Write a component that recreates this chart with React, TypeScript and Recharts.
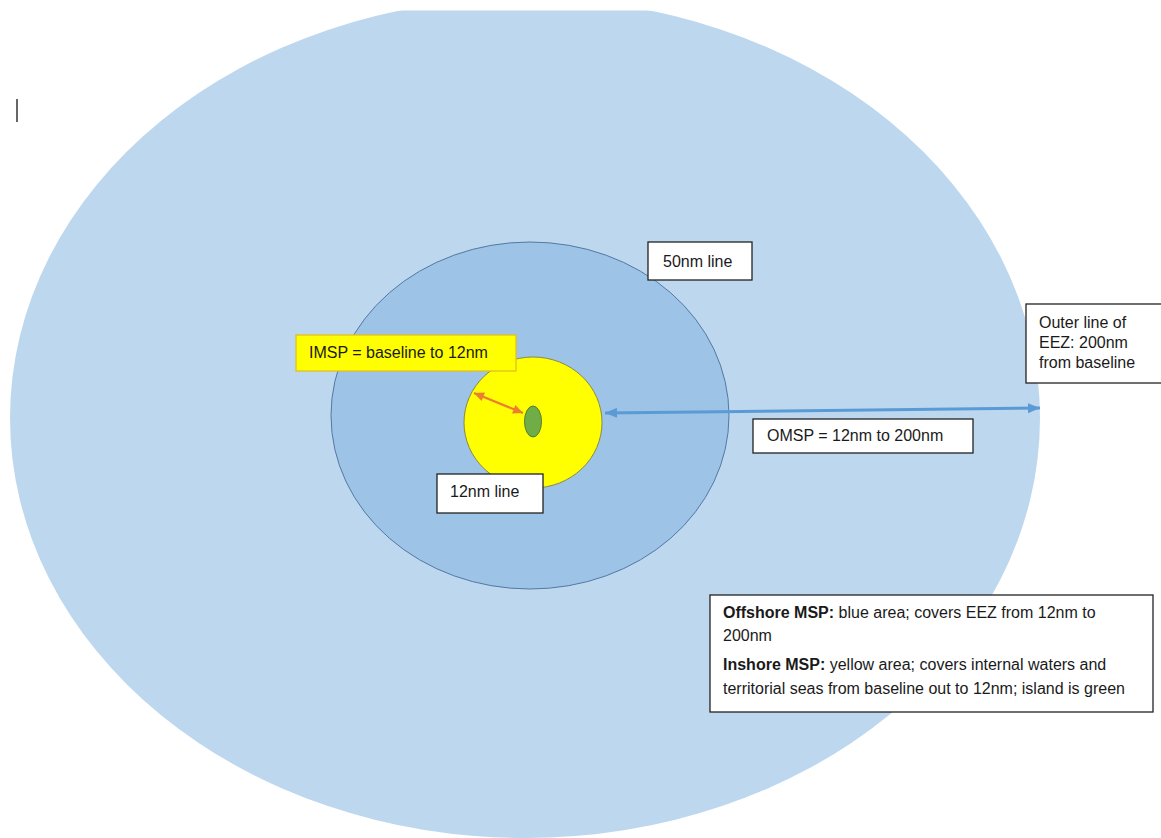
import React from 'react';
import { ScatterChart, Scatter, XAxis, YAxis } from 'recharts';

const W = 1161;
const H = 838;
// diagram units: one unit per pixel at this size
const X_DOMAIN = [0, 1161];
const Y_DOMAIN = [0, 838];
const KX = W / (X_DOMAIN[1] - X_DOMAIN[0]);
const KY = H / (Y_DOMAIN[1] - Y_DOMAIN[0]);

// zones: centre and half-axes
const ZONES = ['eez', 'fifty', 'twelve', 'island'];
const ZONE_X = [525, 530, 533, 533];
const ZONE_Y = [418, 415.5, 422.5, 421.5];
const ZONE_RX = [515, 199, 69, 8.5];
const ZONE_RY = [420, 173.5, 65.5, 15.5];

// arrows: tip to tip
const ARROWS = ['imsp', 'omsp'];
const ARROW_X1 = [474, 605];
const ARROW_Y1 = [393, 413];
const ARROW_X2 = [523, 1040];
const ARROW_Y2 = [413, 408];

// text boxes
const LABELS = ['fifty', 'imsp', 'twelve', 'omsp', 'outer', 'legend'];
const LABEL_LINES = [
  [[{ t: '50nm line' }]],
  [[{ t: 'IMSP = baseline to 12nm' }]],
  [[{ t: '12nm line' }]],
  [[{ t: 'OMSP = 12nm to 200nm' }]],
  [[{ t: 'Outer line of' }], [{ t: 'EEZ: 200nm' }], [{ t: 'from baseline' }]],
  [
    [{ t: 'Offshore MSP:', b: true }, { t: ' blue area; covers EEZ from 12nm to' }],
    [{ t: '200nm' }],
    [{ t: 'Inshore MSP:', b: true }, { t: ' yellow area; covers internal waters and' }],
    [{ t: 'territorial seas from baseline out to 12nm; island is green' }],
  ],
];

const ZONE_STYLE: Record<string, { fill: string; stroke: string }> = {
  eez: { fill: '#BDD7EE', stroke: 'none' },
  fifty: { fill: '#9DC3E6', stroke: '#5479a3' },
  twelve: { fill: '#FFFF00', stroke: '#8a8a45' },
  island: { fill: '#70AD47', stroke: '#507E32' },
};

const ARROW_STYLE: Record<string, { color: string; width: number; len: number; wid: number }> = {
  imsp: { color: '#ED7D31', width: 2.2, len: 10, wid: 9 },
  omsp: { color: '#5B9BD5', width: 3, len: 12, wid: 10 },
};

// box layout: left, top, width, height, text inset, line centres from top
const BOX_STYLE: Record<string, { x: number; y: number; w: number; h: number; pad: number; rows: number[]; fill: string; stroke: string }> = {
  fifty: { x: 648, y: 242, w: 104, h: 38, pad: 15, rows: [19], fill: '#fff', stroke: '#222' },
  imsp: { x: 296, y: 335, w: 220, h: 36, pad: 13, rows: [17], fill: '#FFFF00', stroke: '#e0c020' },
  twelve: { x: 437, y: 474, w: 106, h: 39, pad: 13, rows: [17], fill: '#fff', stroke: '#222' },
  omsp: { x: 753, y: 419, w: 220, h: 34, pad: 14, rows: [16], fill: '#fff', stroke: '#222' },
  outer: { x: 1026, y: 304, w: 140, h: 79, pad: 13, rows: [18, 38, 58], fill: '#fff', stroke: '#222' },
  legend: { x: 710, y: 595, w: 443, h: 117, pad: 13, rows: [17, 40, 69, 93], fill: '#fff', stroke: '#222' },
};

const zoneData = ZONES.map((name, i) => ({ name, x: ZONE_X[i], y: ZONE_Y[i], rx: ZONE_RX[i], ry: ZONE_RY[i] }));

const arrowData = ARROWS.map((name, i) => [
  { name, x: ARROW_X1[i], y: ARROW_Y1[i], ox: ARROW_X2[i], oy: ARROW_Y2[i] },
  { name, x: ARROW_X2[i], y: ARROW_Y2[i], ox: ARROW_X1[i], oy: ARROW_Y1[i] },
]);

const labelData = LABELS.map((name, i) => ({ name, x: BOX_STYLE[name].x, y: BOX_STYLE[name].y, lines: LABEL_LINES[i] }));

const cursorData = [{ x: 17, y: 99 }, { x: 17, y: 122 }];

const FONT = '"Liberation Sans", Arial, sans-serif';

const ZoneShape = (props: any) => {
  const { cx, cy, payload } = props;
  const s = ZONE_STYLE[payload.name];
  return (
    <ellipse
      cx={cx}
      cy={cy}
      rx={payload.rx * KX}
      ry={payload.ry * KY}
      fill={s.fill}
      stroke={s.stroke}
      strokeWidth={1}
      clipPath="url(#sheet)"
    />
  );
};

const HeadShape = (props: any) => {
  const { cx, cy, payload } = props;
  const s = ARROW_STYLE[payload.name];
  const a = Math.atan2((payload.y - payload.oy) * KY, (payload.x - payload.ox) * KX);
  const bx = cx - s.len * Math.cos(a);
  const by = cy - s.len * Math.sin(a);
  const px = (s.wid / 2) * Math.sin(a);
  const py = (s.wid / 2) * Math.cos(a);
  const pts = `${cx},${cy} ${bx + px},${by - py} ${bx - px},${by + py}`;
  return <polygon points={pts} fill={s.color} />;
};

const BoxShape = (props: any) => {
  const { cx, cy, payload } = props;
  const s = BOX_STYLE[payload.name];
  return (
    <g>
      <rect x={cx} y={cy} width={s.w * KX} height={s.h * KY} fill={s.fill} stroke={s.stroke} strokeWidth={1.3} />
      {payload.lines.map((line: any[], i: number) => (
        <text
          key={i}
          x={cx + s.pad}
          y={cy + s.rows[i]}
          dominantBaseline="central"
          fontFamily={FONT}
          fontSize={16}
          fill="#1a1a1a"
          style={{ whiteSpace: 'pre' }}
        >
          {line.map((seg, j) => (
            <tspan key={j} fontWeight={seg.b ? 700 : 400}>
              {seg.t}
            </tspan>
          ))}
        </text>
      ))}
    </g>
  );
};

const NoShape = () => <g />;

export default function App() {
  return (
    <div style={{ position: 'absolute', left: 0, top: 0, width: W, height: H, background: '#fff' }}>
      <ScatterChart width={W} height={H} margin={{ top: 0, right: 0, bottom: 0, left: 0 }}>
        <defs>
          <clipPath id="sheet">
            <rect x={0} y={10.5} width={W} height={H} />
          </clipPath>
        </defs>
        <XAxis type="number" dataKey="x" domain={X_DOMAIN} allowDataOverflow hide />
        <YAxis type="number" dataKey="y" domain={Y_DOMAIN} allowDataOverflow reversed hide />
        <Scatter data={zoneData} shape={<ZoneShape />} isAnimationActive={false} />
        {arrowData.map((d, i) => (
          <Scatter
            key={ARROWS[i]}
            data={d}
            line={{ stroke: ARROW_STYLE[ARROWS[i]].color, strokeWidth: ARROW_STYLE[ARROWS[i]].width }}
            lineType="joint"
            shape={<HeadShape />}
            isAnimationActive={false}
          />
        ))}
        <Scatter
          data={cursorData}
          line={{ stroke: '#000', strokeWidth: 1.2 }}
          lineType="joint"
          shape={<NoShape />}
          isAnimationActive={false}
        />
        <Scatter data={labelData} shape={<BoxShape />} isAnimationActive={false} />
      </ScatterChart>
    </div>
  );
}
